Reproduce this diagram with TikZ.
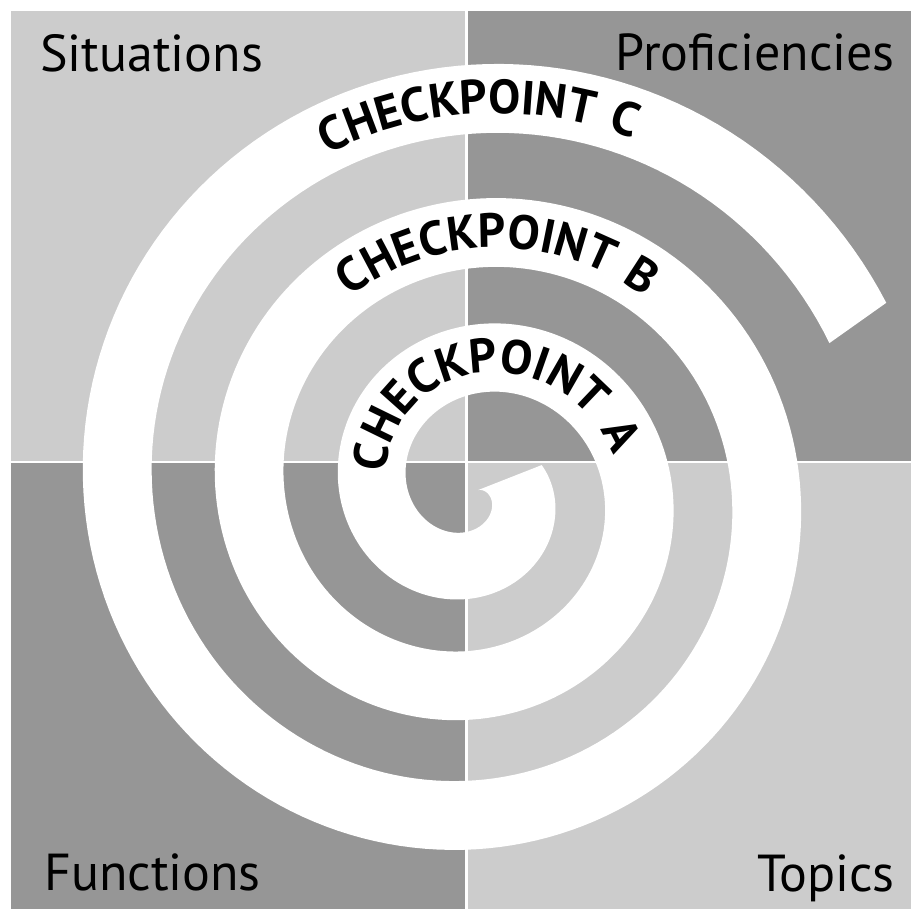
\documentclass[tikz,border=0pt]{standalone}
\usepackage{fontspec}
\setmainfont{PT Sans}
\newfontfamily\cpfont[LetterSpace=9]{PT Sans}
\usetikzlibrary{decorations.text}
\definecolor{lightq}{RGB}{204,204,204}
\definecolor{darkq}{RGB}{150,150,150}
\begin{document}
\begin{tikzpicture}[x=1pt,y=-1pt,
  declare function={rr(\t)=43.4+114.95*\t+4.30*\t*\t;},
  qlabel/.style={font=\fontsize{52}{60}\selectfont, inner sep=0pt, text=black},
  divider/.style={white, line width=2.6pt},
  cptext/.style={decorate, decoration={text along path, text align=center,
     text={|\cpfont\bfseries\fontsize{48}{52}\selectfont|#1}}}
]
\useasboundingbox (0,0) rectangle (911,909);
\fill[white] (0,0) rectangle (911,909);
% quadrants
\fill[lightq] (11,11) rectangle (466.5,462);
\fill[darkq] (466.5,11) rectangle (911,462);
\fill[darkq] (11,462) rectangle (466.5,909);
\fill[lightq] (466.5,462) rectangle (911,909);
\draw[divider] (466.5,11) -- (466.5,909);
\draw[divider] (11,462) -- (911,462);
% spiral band
\fill[white] plot[domain=-0.0594:2.937, samples=541, variable=\t]
   ({475.5+(rr(\t)+34.5)*cos(360*\t)}, {491+(rr(\t)+34.5)*sin(360*\t)})
 -- plot[domain=2.937:-0.0594, samples=541, variable=\t]
   ({475.5+(rr(\t)-34.5)*cos(360*\t)}, {491+(rr(\t)-34.5)*sin(360*\t)})
 -- cycle;
% curved texts
\path[cptext={CHECKPOINT C}] plot[domain=2.5500:2.9390, samples=120, variable=\t]
   ({475.5+(rr(\t)-15)*cos(360*\t)}, {491+(rr(\t)-15)*sin(360*\t)});
\path[cptext={CHECKPOINT B}] plot[domain=1.5450:1.9617, samples=120, variable=\t]
   ({475.5+(rr(\t)-15)*cos(360*\t)}, {491+(rr(\t)-15)*sin(360*\t)});
\path[cptext={CHECKPOINT A}] plot[domain=0.4500:1.0100, samples=120, variable=\t]
   ({475.5+(rr(\t)-15)*cos(360*\t)}, {491+(rr(\t)-15)*sin(360*\t)});
% corner labels
\node[qlabel, anchor=base west] (sit) at (40,72) {Situations};
\node[qlabel, anchor=base east] (prof) at (895,71) {Proficiencies};
\node[qlabel, anchor=base west] (fun) at (44,890) {Functions};
\node[qlabel, anchor=base east] (top) at (895,891) {Topics};
\end{tikzpicture}
\end{document}
